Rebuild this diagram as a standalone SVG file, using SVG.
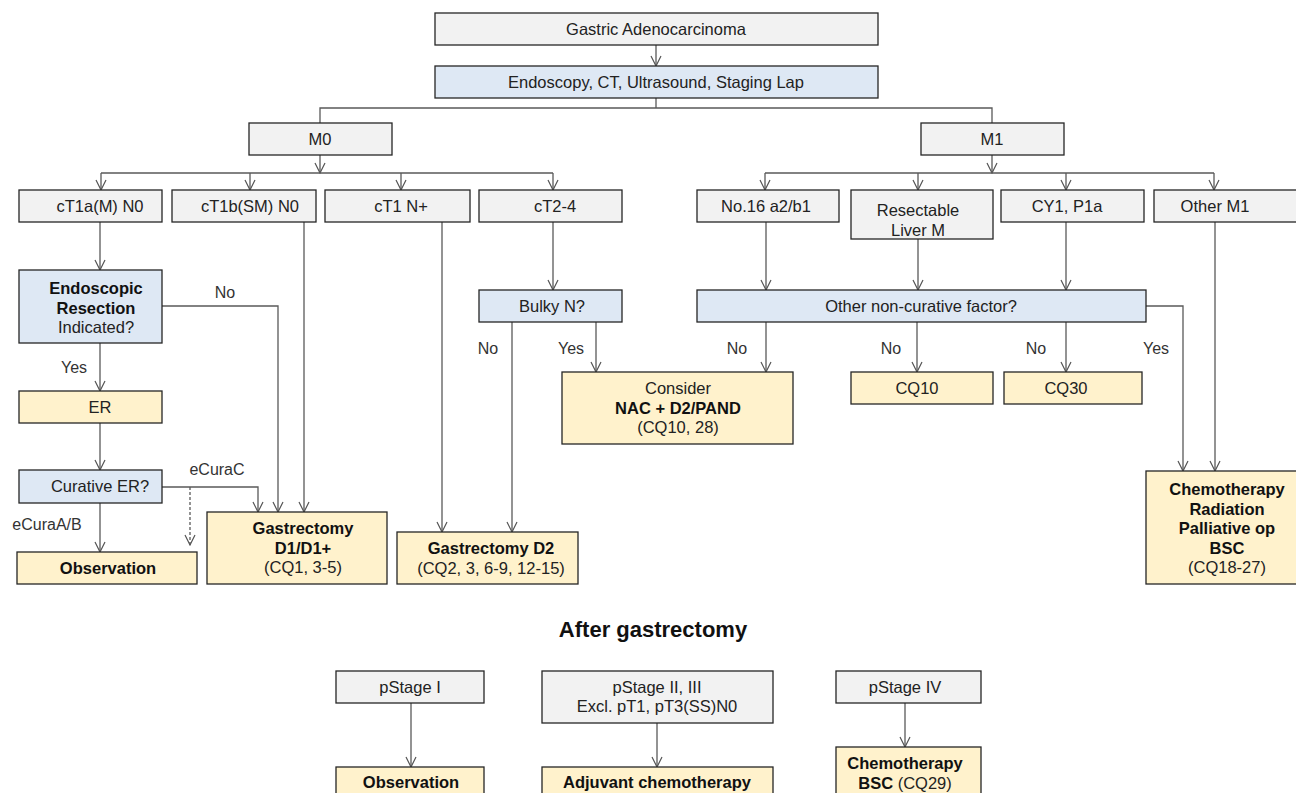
<svg xmlns="http://www.w3.org/2000/svg" width="1296" height="793" viewBox="0 0 1296 793">
<defs>
<marker id="arr" markerUnits="userSpaceOnUse" markerWidth="12" markerHeight="12" viewBox="0 -6 12 12" refX="11" refY="0" orient="auto">
<path d="M1,-5 L11,0 L1,5" fill="none" stroke="#555" stroke-width="1.2"/>
</marker>
</defs>
<style>
text{font-family:"Liberation Sans",Arial,sans-serif;font-size:16.5px;fill:#222;text-anchor:middle;dominant-baseline:central}
.b{font-weight:bold;fill:#111}
.lbl{font-size:16px;fill:#333}
.g{fill:#f2f2f2;stroke:#262626;stroke-width:1.3}
.bl{fill:#dee8f4;stroke:#262626;stroke-width:1.3}
.y{fill:#fff2cc;stroke:#262626;stroke-width:1.3}
.c{fill:none;stroke:#595959;stroke-width:1.3}
.ca{fill:none;stroke:#595959;stroke-width:1.3;marker-end:url(#arr)}
.title{font-size:22px;font-weight:bold;fill:#111}
</style>
<rect width="1296" height="793" fill="#fff"/>

<g id="connectors">
<line class="ca" x1="656" y1="45" x2="656" y2="66"/>
<polyline class="c" points="656,98 656,108"/>
<polyline class="c" points="320,123 320,108 992,108 992,123"/>
<line class="ca" x1="320" y1="155" x2="320" y2="173"/>
<line class="c" x1="101" y1="173" x2="553" y2="173"/>
<line class="ca" x1="101" y1="173" x2="101" y2="190"/>
<line class="ca" x1="250" y1="173" x2="250" y2="190"/>
<line class="ca" x1="401" y1="173" x2="401" y2="190"/>
<line class="ca" x1="553" y1="173" x2="553" y2="190"/>
<line class="ca" x1="992" y1="155" x2="992" y2="173"/>
<line class="c" x1="765" y1="173" x2="1214" y2="173"/>
<line class="ca" x1="765" y1="173" x2="765" y2="190"/>
<line class="ca" x1="918" y1="173" x2="918" y2="190"/>
<line class="ca" x1="1066" y1="173" x2="1066" y2="190"/>
<line class="ca" x1="1214" y1="173" x2="1214" y2="190"/>
<line class="ca" x1="100" y1="222" x2="100" y2="270"/>
<line class="ca" x1="304" y1="222" x2="304" y2="512"/>
<line class="ca" x1="442" y1="222" x2="442" y2="532"/>
<line class="ca" x1="553" y1="222" x2="553" y2="290"/>
<polyline class="ca" points="162,306 278,306 278,512"/>
<line class="ca" x1="100" y1="343" x2="100" y2="391"/>
<line class="ca" x1="100" y1="423" x2="100" y2="470"/>
<polyline class="ca" points="162,487 258,487 258,512"/>
<line class="ca" x1="190" y1="487" x2="190" y2="545" stroke-dasharray="3,2"/>
<line class="ca" x1="100" y1="503" x2="100" y2="552"/>
<line class="ca" x1="512" y1="322" x2="512" y2="532"/>
<line class="ca" x1="596" y1="322" x2="596" y2="372"/>
<line class="ca" x1="766" y1="222" x2="766" y2="290"/>
<line class="ca" x1="918" y1="239" x2="918" y2="290"/>
<line class="ca" x1="1066" y1="222" x2="1066" y2="290"/>
<line class="ca" x1="766" y1="322" x2="766" y2="372"/>
<line class="ca" x1="917" y1="322" x2="917" y2="372"/>
<line class="ca" x1="1066" y1="322" x2="1066" y2="372"/>
<polyline class="ca" points="1146,306 1183,306 1183,471"/>
<line class="ca" x1="1215" y1="222" x2="1215" y2="471"/>
<line class="ca" x1="411" y1="703" x2="411" y2="767"/>
<line class="ca" x1="657" y1="723" x2="657" y2="767"/>
<line class="ca" x1="905" y1="703" x2="905" y2="747"/>
</g>

<g id="labels">
<text class="lbl" x="225" y="292">No</text>
<text class="lbl" x="74" y="367">Yes</text>
<text class="lbl" x="217" y="469">eCuraC</text>
<text class="lbl" x="47" y="524">eCuraA/B</text>
<text class="lbl" x="488" y="348">No</text>
<text class="lbl" x="571" y="348">Yes</text>
<text class="lbl" x="737" y="348">No</text>
<text class="lbl" x="891" y="348">No</text>
<text class="lbl" x="1036" y="348">No</text>
<text class="lbl" x="1156" y="348">Yes</text>
</g>

<g id="n-gastric"><rect class="g" x="435" y="13" width="443" height="32"/><text x="656" y="29">Gastric Adenocarcinoma</text></g>
<g id="n-endoscopy"><rect class="bl" x="435" y="66" width="443" height="32"/><text x="656" y="82">Endoscopy, CT, Ultrasound, Staging Lap</text></g>
<g id="n-m0"><rect class="g" x="249" y="123" width="143" height="32"/><text x="320" y="139">M0</text></g>
<g id="n-m1"><rect class="g" x="921" y="123" width="143" height="32"/><text x="992" y="139">M1</text></g>

<g id="n-ct1a"><rect class="g" x="19" y="190" width="143" height="32"/><text x="100" y="206">cT1a(M) N0</text></g>
<g id="n-ct1b"><rect class="g" x="172" y="190" width="144" height="32"/><text x="250" y="206">cT1b(SM) N0</text></g>
<g id="n-ct1n"><rect class="g" x="325" y="190" width="145" height="32"/><text x="401" y="206">cT1 N+</text></g>
<g id="n-ct2"><rect class="g" x="479" y="190" width="143" height="32"/><text x="555" y="206">cT2-4</text></g>

<g id="n-no16"><rect class="g" x="697" y="190" width="142" height="32"/><text x="766" y="206">No.16 a2/b1</text></g>
<g id="n-liver"><rect class="g" x="851" y="190" width="142" height="49"/><text x="918" y="210">Resectable<tspan x="918" dy="19.5">Liver M</tspan></text></g>
<g id="n-cy1"><rect class="g" x="1001" y="190" width="143" height="32"/><text x="1067" y="206">CY1, P1a</text></g>
<g id="n-otherm1"><rect class="g" x="1154" y="190" width="150" height="32"/><text x="1215" y="206">Other M1</text></g>

<g id="n-er-ind"><rect class="bl" x="19" y="270" width="143" height="73"/><text x="96" y="288"><tspan class="b">Endoscopic</tspan><tspan class="b" x="96" dy="19.5">Resection</tspan><tspan x="96" dy="19.5">Indicated?</tspan></text></g>
<g id="n-er"><rect class="y" x="19" y="391" width="143" height="32"/><text x="100" y="407">ER</text></g>
<g id="n-curative"><rect class="bl" x="19" y="470" width="143" height="33"/><text x="100" y="486">Curative ER?</text></g>
<g id="n-obs1"><rect class="y" x="17" y="552" width="180" height="32"/><text class="b" x="108" y="568">Observation</text></g>
<g id="n-gd1"><rect class="y" x="207" y="512" width="180" height="72"/><text x="303" y="528"><tspan class="b">Gastrectomy</tspan><tspan class="b" x="303" dy="19.5">D1/D1+</tspan><tspan x="303" dy="19.5">(CQ1, 3-5)</tspan></text></g>
<g id="n-gd2"><rect class="y" x="397" y="532" width="181" height="52"/><text x="491" y="548"><tspan class="b">Gastrectomy D2</tspan><tspan x="491" dy="19.5">(CQ2, 3, 6-9, 12-15)</tspan></text></g>
<g id="n-bulky"><rect class="bl" x="479" y="290" width="143" height="32"/><text x="552" y="306">Bulky N?</text></g>
<g id="n-consider"><rect class="y" x="562" y="372" width="231" height="72"/><text x="678" y="388">Consider<tspan class="b" x="678" dy="19.5">NAC + D2/PAND</tspan><tspan x="678" dy="19.5">(CQ10, 28)</tspan></text></g>
<g id="n-noncur"><rect class="bl" x="697" y="290" width="449" height="32"/><text x="921" y="306">Other non-curative factor?</text></g>
<g id="n-cq10"><rect class="y" x="851" y="372" width="142" height="32"/><text x="917" y="388">CQ10</text></g>
<g id="n-cq30"><rect class="y" x="1004" y="372" width="138" height="32"/><text x="1066" y="388">CQ30</text></g>
<g id="n-chemo"><rect class="y" x="1146" y="471" width="160" height="113"/><text x="1227" y="489"><tspan class="b">Chemotherapy</tspan><tspan class="b" x="1227" dy="19.5">Radiation</tspan><tspan class="b" x="1227" dy="19.5">Palliative op</tspan><tspan class="b" x="1227" dy="19.5">BSC</tspan><tspan x="1227" dy="19.5">(CQ18-27)</tspan></text></g>

<text class="title" x="653" y="629">After gastrectomy</text>

<g id="n-ps1"><rect class="g" x="336" y="671" width="148" height="32"/><text x="410" y="687">pStage I</text></g>
<g id="n-ps23"><rect class="g" x="542" y="671" width="231" height="52"/><text x="657" y="687">pStage II, III<tspan x="657" dy="19">Excl. pT1, pT3(SS)N0</tspan></text></g>
<g id="n-ps4"><rect class="g" x="836" y="671" width="145" height="32"/><text x="905" y="687">pStage IV</text></g>
<g id="n-obs2"><rect class="y" x="336" y="767" width="148" height="40"/><text class="b" x="411" y="782">Observation</text></g>
<g id="n-adj"><rect class="y" x="542" y="767" width="231" height="40"/><text class="b" x="657" y="782">Adjuvant chemotherapy</text></g>
<g id="n-chemo2"><rect class="y" x="836" y="747" width="145" height="60"/><text x="905" y="763"><tspan class="b">Chemotherapy</tspan><tspan x="905" dy="19.5"><tspan class="b">BSC</tspan> (CQ29)</tspan></text></g>
</svg>
